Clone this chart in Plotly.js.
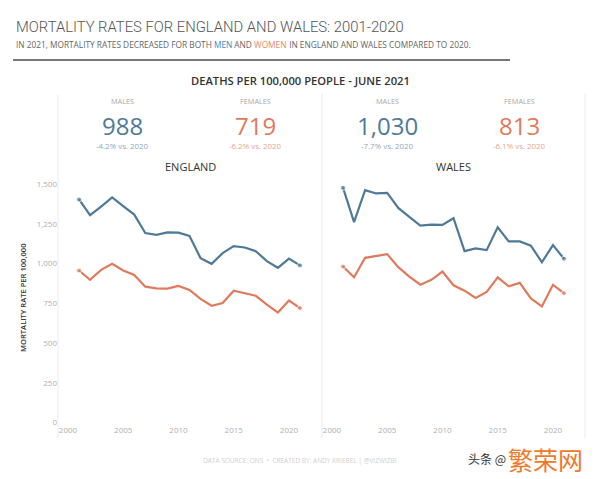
<!DOCTYPE html>
<html>
<head>
<meta charset="utf-8">
<script src="https://cdn.plot.ly/plotly-3.0.1.min.js"></script>
<style>
  html, body { margin: 0; padding: 0; background: #fff; }
  #chart { width: 600px; height: 479px; }
</style>
</head>
<body>
<div id="chart"></div>
<script>
// ---- Data ----
const years = [2001,2002,2003,2004,2005,2006,2007,2008,2009,2010,2011,2012,2013,2014,2015,2016,2017,2018,2019,2020,2021];
const englandMales   = [1403,1304,1358,1416,1361,1308,1192,1180,1196,1194,1173,1034,998,1065,1109,1101,1078,1015,973,1031,988];
const englandFemales = [956,897,960,998,956,928,854,844,842,859,834,777,734,751,829,812,797,741,692,767,719];
const walesMales     = [1477,1261,1462,1441,1445,1350,1293,1239,1245,1243,1285,1078,1095,1084,1228,1139,1139,1112,1008,1116,1030];
const walesFemales   = [981,913,1036,1049,1059,977,918,867,897,949,863,829,783,821,913,856,878,780,730,866,813];

const countries      = ["ENGLAND", "WALES"];
const kpiMales       = [988, 1030];
const kpiFemales     = [719, 813];
const kpiMalesChg    = ["-4.2%", "-7.7%"];
const kpiFemalesChg  = ["-6.2%", "-6.1%"];
const xTickVals      = [2000, 2005, 2010, 2015, 2020];
const yTickVals      = [0, 250, 500, 750, 1000, 1250, 1500];

// ---- Style ----
const BLUE = "#4f7a97";
const ORANGE = "#df7a5c";
const BLUE_LIGHT = "#8fa9bb";
const ORANGE_LIGHT = "#eaa58f";
const FONT = "Open Sans, Lato, sans-serif";
const W = 600, H = 479;
const px = x => x / W;
const py = y => 1 - y / H;

function lineTrace(y, color, xa, ya, name) {
  const n = y.length;
  const sizes = y.map((v, i) => (i === 0 || i === n - 1) ? 5 : 0);
  return {
    type: "scatter", mode: "lines+markers", x: years, y: y, name: name,
    xaxis: xa, yaxis: ya,
    line: { color: color, width: 2.2 },
    marker: { color: color, size: sizes },
    showlegend: false, hoverinfo: "x+y"
  };
}

const data = [
  lineTrace(englandMales, BLUE, "x", "y", "England males"),
  lineTrace(englandFemales, ORANGE, "x", "y", "England females"),
  lineTrace(walesMales, BLUE, "x2", "y2", "Wales males"),
  lineTrace(walesFemales, ORANGE, "x2", "y2", "Wales females")
];

const yDomain = [py(424), py(175)];
const yRange = [-10, 1557];
const xRange = [1999.1, 2022.9];

const xaxisBase = {
  range: xRange, tickvals: xTickVals, ticktext: xTickVals.map(String),
  showgrid: false, zeroline: false, showline: false, ticks: "",
  tickfont: { family: FONT, size: 8, color: "#b0b0b0" }, fixedrange: true
};
const yaxisBase = {
  range: yRange, domain: yDomain, tickvals: yTickVals,
  ticktext: yTickVals.map(v => v.toLocaleString("en-US")),
  showgrid: false, zeroline: false, showline: false, ticks: "",
  tickfont: { family: FONT, size: 8, color: "#b0b0b0" }, fixedrange: true
};

const annotations = [];
function ann(text, x, y, size, color, extra) {
  annotations.push(Object.assign({
    text: text, x: px(x), y: py(y), xref: "paper", yref: "paper",
    xanchor: "center", yanchor: "middle", showarrow: false,
    font: { family: FONT, size: size, color: color }
  }, extra || {}));
}

// Titles
ann("MORTALITY RATES FOR ENGLAND AND WALES: 2001-2020", 14, 27, 14.8, "#555555", { xanchor: "left", font: { family: "Roboto, Open Sans, sans-serif", size: 14.8, color: "#555555", weight: 300 } });

// Subtitle: pieces placed side by side, widths measured with canvas
const subParts = [
  ["IN 2021, MORTALITY RATES DECREASED FOR BOTH ", "#666666"],
  ["MEN", "#2f8fc4"],
  [" AND ", "#666666"],
  ["WOMEN", "#e58a6c"],
  [" IN ENGLAND AND WALES COMPARED TO 2020.", "#666666"]
];
(function () {
  const ctx = document.createElement("canvas").getContext("2d");
  ctx.font = "8.3px 'Open Sans'";
  let x = 14;
  subParts.forEach(([t, c]) => {
    const w = ctx.measureText(t.replace(/ /g, "\u00a0")).width;
    ann(t.replace(/ /g, "\u00a0"), x, 44, 8.3, c, { xanchor: "left", xshift: 0 });
    x += w;
  });
})();

ann("DEATHS PER 100,000 PEOPLE - JUNE 2021", 300, 81, 11.2, "#333333", { font: { family: FONT, size: 11.2, color: "#333333", weight: 600 } });

// KPIs
const kpiX = [[123, 255], [387, 519]];
const titleX = [190, 453];
countries.forEach((c, i) => {
  ann("MALES", kpiX[i][0], 101, 7.3, "#a8a8a8");
  ann("FEMALES", kpiX[i][1], 101, 7.3, "#a8a8a8");
  ann(kpiMales[i].toLocaleString("en-US"), kpiX[i][0], 125, 24, BLUE);
  ann(kpiFemales[i].toLocaleString("en-US"), kpiX[i][1], 125, 24, ORANGE);
  ann(kpiMalesChg[i] + " vs. 2020", kpiX[i][0], 146, 7.9, BLUE_LIGHT);
  ann(kpiFemalesChg[i] + " vs. 2020", kpiX[i][1], 146, 7.9, ORANGE_LIGHT);
  ann(c, titleX[i], 166, 11, "#333333", { font: { family: FONT, size: 11, color: "#333333", weight: 500 } });
});

// Y axis title
ann("MORTALITY RATE PER 100,000", 23, 298, 7.6, "#333333", { textangle: -90, font: { family: FONT, size: 7.6, color: "#333333", weight: 600 } });

// Footer
ann("DATA SOURCE: ONS  •  CREATED BY: ANDY KRIEBEL | @VIZWIZBI", 300, 460, 6.5, "#cfcfcf");

// Watermark
ann("头条 @", 487, 458, 12, "#333333", { font: { family: "Noto Sans CJK SC", size: 12, color: "#333333" } });
ann("繁荣网", 545, 459, 25, "#f07a2a", { font: { family: "Noto Sans CJK SC", size: 25, color: "#f07a2a" } });

const shapes = [
  { type: "line", xref: "paper", yref: "paper", x0: px(13), x1: px(510), y0: py(60), y1: py(60), line: { color: "#777777", width: 2 } },
  { type: "line", xref: "paper", yref: "paper", x0: px(58), x1: px(58), y0: py(95), y1: py(438), line: { color: "#ececec", width: 1 } },
  { type: "line", xref: "paper", yref: "paper", x0: px(322), x1: px(322), y0: py(93), y1: py(438), line: { color: "#ececec", width: 1 } },
  { type: "line", xref: "paper", yref: "paper", x0: px(585), x1: px(585), y0: py(93), y1: py(438), line: { color: "#ececec", width: 1 } }
];

const layout = {
  width: W, height: H,
  margin: { l: 0, r: 0, t: 0, b: 0 },
  paper_bgcolor: "#ffffff", plot_bgcolor: "rgba(0,0,0,0)",
  font: { family: FONT },
  xaxis: Object.assign({}, xaxisBase, { domain: [px(58), px(321)], anchor: "y" }),
  xaxis2: Object.assign({}, xaxisBase, { domain: [px(322), px(585)], anchor: "y2" }),
  yaxis: Object.assign({}, yaxisBase, { anchor: "x" }),
  yaxis2: Object.assign({}, yaxisBase, { anchor: "x2", showticklabels: false }),
  annotations: annotations,
  shapes: shapes,
  showlegend: false
};

Plotly.newPlot("chart", data, layout, { displayModeBar: false, staticPlot: true });
</script>
</body>
</html>
